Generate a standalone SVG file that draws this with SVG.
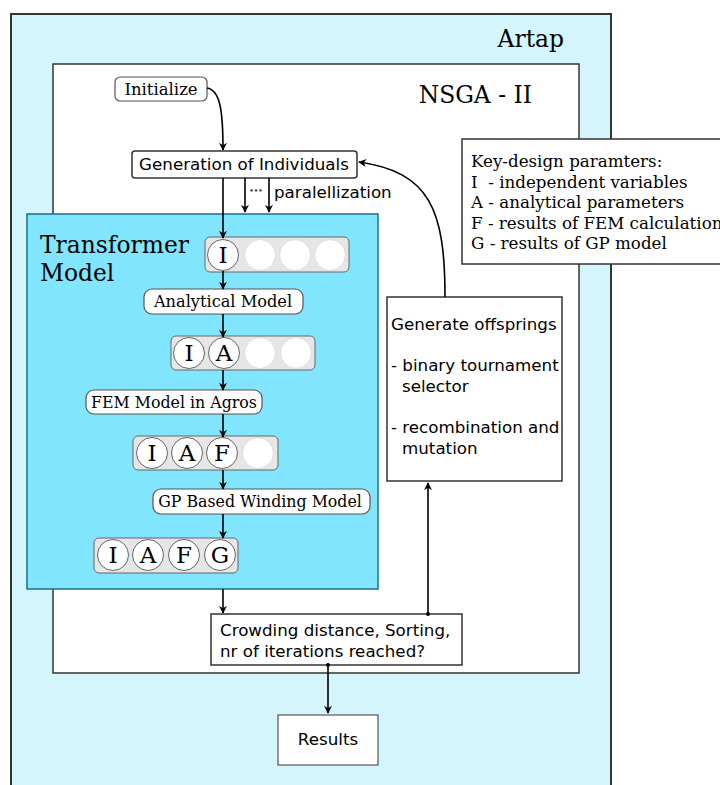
<svg xmlns="http://www.w3.org/2000/svg" width="720" height="785" viewBox="0 0 720 785">
<defs>
<marker id="ah" viewBox="0 0 10 10" refX="9" refY="5" markerWidth="8" markerHeight="8" markerUnits="userSpaceOnUse" orient="auto">
<path d="M0,0 L10,5 L0,10 L3,5 z" fill="#000"/>
</marker>
<style>
.serif{font-family:"DejaVu Serif","Liberation Serif",serif;fill:#000}
.sans{font-family:"DejaVu Sans","Liberation Sans",sans-serif;fill:#000}
.box{fill:#fff;stroke:#333;stroke-width:1.5}
.rbox{fill:#fff;stroke:#555;stroke-width:1.2}
.row{fill:#e6e6e6;stroke:#666;stroke-width:1}
.c{fill:#fff;stroke:#666;stroke-width:1}
.cl{fill:#fff;stroke:#ddd;stroke-width:1}
.con{fill:none;stroke:#000;stroke-width:1.6}
</style>
</defs>
<g id="artap">
<rect x="11" y="14" width="600" height="790" fill="#d5f5fd" stroke="#333" stroke-width="2"/>
<text class="serif" x="564" y="47" font-size="23.4" text-anchor="end">Artap</text>
</g>
<g id="nsga">
<rect x="53" y="64" width="526" height="609" fill="#fff" stroke="#333" stroke-width="1.5"/>
<text class="serif" x="532" y="103" font-size="23.4" text-anchor="end">NSGA - II</text>
</g>
<g id="keydesign">
<rect x="462" y="139" width="262" height="125" class="box"/>
<text class="serif" font-size="16.7" xml:space="preserve"><tspan x="471" y="167">Key-design paramters:</tspan><tspan x="471" y="188">I  - independent variables</tspan><tspan x="471" y="208">A - analytical parameters</tspan><tspan x="471" y="229">F - results of FEM calculation</tspan><tspan x="471" y="249">G - results of GP model</tspan></text>
</g>
<g id="transformer">
<rect x="27" y="214" width="351" height="375" fill="#80e5fd" stroke="#1a6f8a" stroke-width="1.5"/>
<text class="serif" font-size="23.4"><tspan x="40" y="253">Transformer</tspan><tspan x="40" y="281">Model</tspan></text>
</g>
<g id="initialize">
<rect x="115" y="77" width="92" height="24" rx="5" class="rbox" stroke="#333"/>
<text class="serif" x="161" y="95" font-size="16.5" text-anchor="middle">Initialize</text>
</g>
<g id="generation">
<rect x="132" y="151" width="225" height="27" rx="3" class="box"/>
<text class="sans" x="244" y="170" font-size="16.7" text-anchor="middle">Generation of Individuals</text>
</g>
<g id="row1">
<rect x="205" y="237" width="144" height="35" rx="5" class="row"/>
<circle cx="223" cy="255" r="15.5" class="c"/>
<circle cx="260" cy="255" r="15.5" class="cl"/>
<circle cx="295" cy="255" r="15.5" class="cl"/>
<circle cx="330" cy="255" r="15.5" class="cl"/>
<text class="serif" x="223" y="263" font-size="23" text-anchor="middle">I</text>
</g>
<g id="analytical">
<rect x="144" y="289" width="159" height="25" rx="8" class="rbox"/>
<text class="serif" x="223" y="307" font-size="16.2" text-anchor="middle">Analytical Model</text>
</g>
<g id="row2">
<rect x="171" y="336" width="144" height="34" rx="5" class="row"/>
<circle cx="189" cy="353" r="15.5" class="c"/>
<circle cx="224" cy="353" r="15.5" class="c"/>
<circle cx="260" cy="353" r="15.5" class="cl"/>
<circle cx="296" cy="353" r="15.5" class="cl"/>
<text class="serif" font-size="23" text-anchor="middle"><tspan x="189" y="361">I</tspan><tspan x="224" y="361">A</tspan></text>
</g>
<g id="fem">
<rect x="86" y="390" width="176" height="24" rx="8" class="rbox"/>
<text class="serif" x="174" y="408" font-size="15.8" text-anchor="middle">FEM Model in Agros</text>
</g>
<g id="row3">
<rect x="133" y="436" width="145" height="34" rx="5" class="row"/>
<circle cx="152" cy="453" r="15.5" class="c"/>
<circle cx="187" cy="453" r="15.5" class="c"/>
<circle cx="222" cy="453" r="15.5" class="c"/>
<circle cx="258" cy="453" r="15.5" class="cl"/>
<text class="serif" font-size="23" text-anchor="middle"><tspan x="152" y="461">I</tspan><tspan x="187" y="461">A</tspan><tspan x="222" y="461">F</tspan></text>
</g>
<g id="gp">
<rect x="153" y="489" width="217" height="25" rx="8" class="rbox"/>
<text class="serif" x="260" y="507" font-size="15.8" text-anchor="middle">GP Based Winding Model</text>
</g>
<g id="row4">
<rect x="94" y="538" width="144" height="35" rx="5" class="row"/>
<circle cx="113" cy="555" r="15.5" class="c"/>
<circle cx="148" cy="555" r="15.5" class="c"/>
<circle cx="184" cy="555" r="15.5" class="c"/>
<circle cx="220" cy="555" r="15.5" class="c"/>
<text class="serif" font-size="23" text-anchor="middle"><tspan x="113" y="563">I</tspan><tspan x="148" y="563">A</tspan><tspan x="184" y="563">F</tspan><tspan x="220" y="563">G</tspan></text>
</g>
<g id="offsprings">
<rect x="387" y="297" width="175" height="184" class="box"/>
<text class="sans" font-size="16.7"><tspan x="391" y="330">Generate offsprings</tspan><tspan x="391" y="371">- binary tournament</tspan><tspan x="402" y="392">selector</tspan><tspan x="391" y="433">- recombination and</tspan><tspan x="402" y="454">mutation</tspan></text>
</g>
<g id="crowding">
<rect x="211" y="614" width="251" height="51" class="box"/>
<text class="sans" font-size="16.7"><tspan x="220" y="636">Crowding distance, Sorting,</tspan><tspan x="220" y="657">nr of iterations reached?</tspan></text>
</g>
<g id="results">
<rect x="278" y="715" width="100" height="50" fill="#fff" stroke="#555" stroke-width="1.2"/>
<text class="sans" x="328" y="745" font-size="16.7" text-anchor="middle">Results</text>
</g>
<g id="connectors">
<path class="con" d="M207,88 C220,90 223,110 223,150" marker-end="url(#ah)"/>
<path class="con" d="M223,178 L223,238" marker-end="url(#ah)"/>
<path class="con" d="M245,178 L245,212" marker-end="url(#ah)"/>
<path class="con" d="M269,178 L269,212" marker-end="url(#ah)"/>
<text class="sans" x="256" y="193" font-size="7" font-weight="bold" text-anchor="middle" style="fill:#444">•••</text>
<text class="sans" x="274" y="198" font-size="16.7">paralellization</text>
<path class="con" d="M445,297 C445,210 430,172 359,162" marker-end="url(#ah)"/>
<path class="con" d="M223,271 L223,289" marker-end="url(#ah)"/>
<path class="con" d="M223,314 L223,337" marker-end="url(#ah)"/>
<path class="con" d="M223,370 L223,390" marker-end="url(#ah)"/>
<path class="con" d="M223,414 L223,437" marker-end="url(#ah)"/>
<path class="con" d="M223,470 L223,489" marker-end="url(#ah)"/>
<path class="con" d="M223,514 L223,538" marker-end="url(#ah)"/>
<path class="con" d="M223,589 L223,613" marker-end="url(#ah)"/>
<path class="con" d="M428,614 L428,483" marker-end="url(#ah)"/>
<circle cx="428" cy="614" r="2" fill="#000"/>
<path class="con" d="M328,665 L328,713" marker-end="url(#ah)"/>
<circle cx="328" cy="665" r="2" fill="#000"/>
</g>
</svg>
